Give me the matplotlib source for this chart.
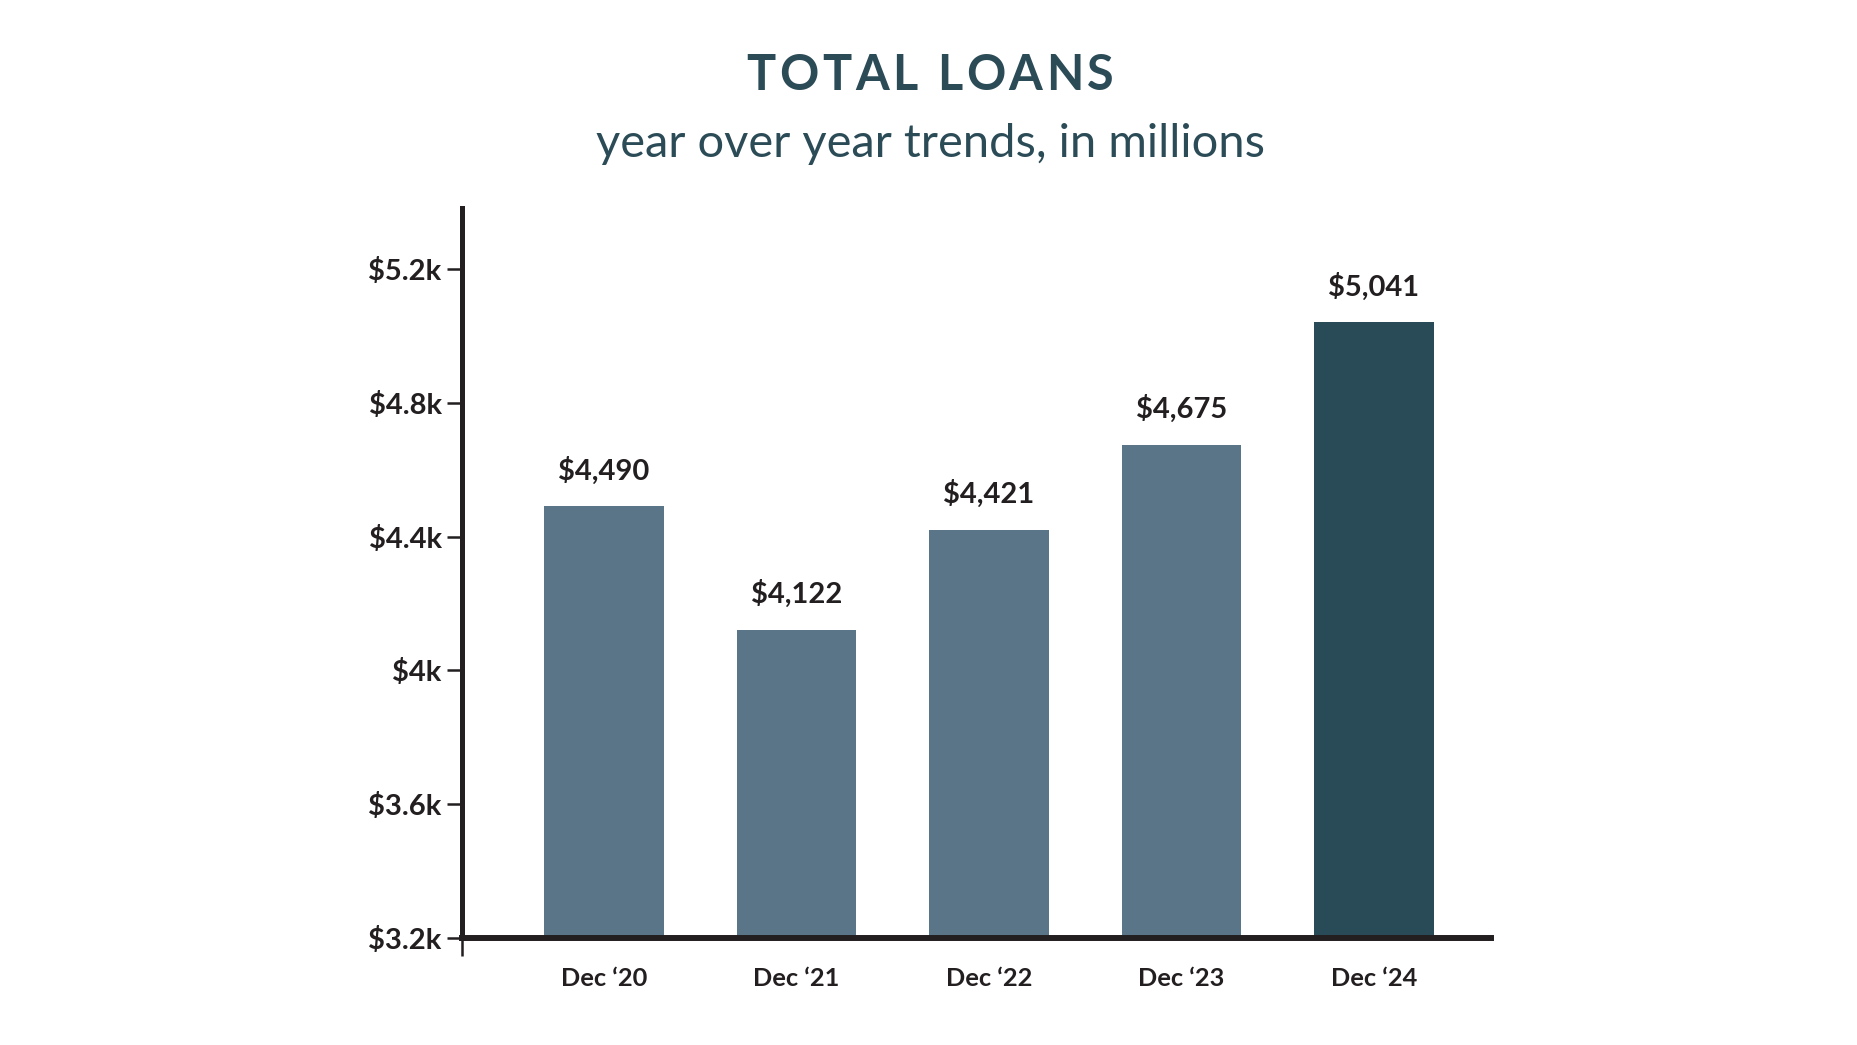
import matplotlib
matplotlib.use("Agg")
import matplotlib.pyplot as plt
from matplotlib.ticker import FixedLocator

# ---- data ----
categories = ["Dec \u201820", "Dec \u201821", "Dec \u201822", "Dec \u201823", "Dec \u201824"]
loans = [4490, 4122, 4421, 4675, 5041]
value_labels = ["$4,490", "$4,122", "$4,421", "$4,675", "$5,041"]
ytick_values = [3200, 3600, 4000, 4400, 4800, 5200]
ytick_labels = ["$3.2k", "$3.6k", "$4k", "$4.4k", "$4.8k", "$5.2k"]
title_text = "TOTAL LOANS"
subtitle_text = "year over year trends, in millions"

# ---- style ----
BAR_LIGHT = "#5a7588"
BAR_DARK = "#284b57"
TITLE_COLOR = "#2b4b57"
INK = "#231f20"
bar_colors = [BAR_LIGHT] * (len(loans) - 1) + [BAR_DARK]

W, H, DPI = 1857, 1045, 100
fig = plt.figure(figsize=(W / DPI, H / DPI), dpi=DPI)
fig.patch.set_facecolor("white")

ax = fig.add_axes([462 / W, 107 / H, (1491 - 462) / W, (938 - 208) / H])
x = list(range(len(categories)))
ax.bar(x, loans, width=0.623, color=bar_colors, zorder=1)
ax.set_xlim(-0.738, 4.608)
ax.set_ylim(3200, 5382)

for xi, v, lab in zip(x, loans, value_labels):
    ax.annotate(lab, (xi, v), xytext=(0, 19), textcoords="offset points",
                ha="center", va="baseline", family="Lato", weight="bold",
                fontsize=21, color=INK)

for s in ["top", "right"]:
    ax.spines[s].set_visible(False)
ax.spines["left"].set_linewidth(3.6)
ax.spines["left"].set_color(INK)
ax.spines["bottom"].set_linewidth(4.3)
ax.spines["bottom"].set_color(INK)
ax.spines["left"].set_zorder(3)
ax.spines["bottom"].set_zorder(3)

ax.set_yticks(ytick_values)
ax.set_yticklabels(ytick_labels, family="Lato", weight="bold", fontsize=21, color=INK)
ax.tick_params(axis="y", length=11, width=1.8, color=INK, pad=3.6)

ax.set_xticks(x)
ax.set_xticklabels(categories, family="Lato", weight="bold", fontsize=18.3, color=INK)
ax.tick_params(axis="x", which="major", length=0, pad=21)
ax.xaxis.set_minor_locator(FixedLocator([ax.get_xlim()[0]]))
ax.tick_params(axis="x", which="minor", length=13, width=1.8, color=INK)

# ---- title with letter spacing ----
renderer = fig.canvas.get_renderer()

def text_width(s, **kw):
    t = fig.text(0, 0, s, **kw)
    w = t.get_window_extent(renderer).width
    t.remove()
    return w

def tracked_text(s, cx_px, y_frac, tracking_px, **kw):
    total = text_width(s, **kw) + tracking_px * (len(s) - 1)
    x0 = cx_px - total / 2
    for i, ch in enumerate(s):
        if ch == " ":
            continue
        left = text_width(s[:i + 1], **kw) - text_width(ch, **kw)
        fig.text((x0 + left + tracking_px * i) / W, y_frac, ch, ha="left",
                 va="baseline", **kw)

title_kw = dict(family="Lato", weight="bold", fontsize=35, color=TITLE_COLOR)
tracked_text(title_text, 930, 1 - 90 / H, 3.6, **title_kw)
fig.text(931 / W, 1 - 157 / H, subtitle_text, ha="center", va="baseline",
         family="Lato", fontsize=33.8, color=TITLE_COLOR)

fig.savefig("out.png", dpi=DPI, facecolor="white")
